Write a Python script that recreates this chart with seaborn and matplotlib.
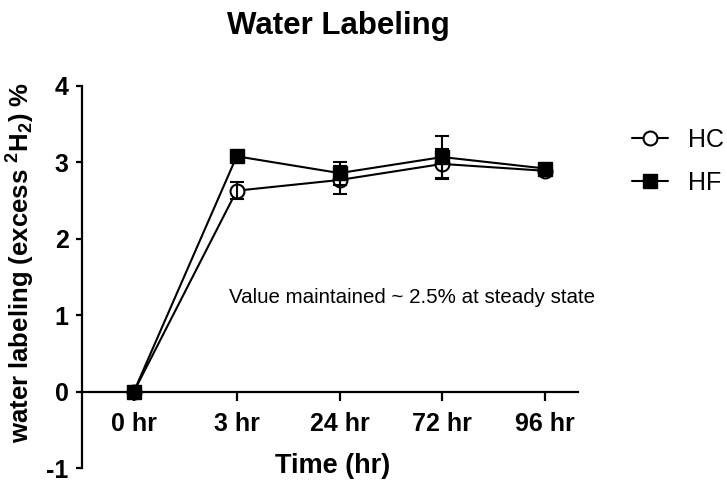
import matplotlib
matplotlib.use("Agg")
import matplotlib.pyplot as plt
import numpy as np
import pandas as pd
import seaborn as sns

# Deuterium water labeling over time, mean and SEM per group
time_labels = ["0 hr", "3 hr", "24 hr", "72 hr", "96 hr"]
hc_mean = [0.0, 2.63, 2.77, 2.98, 2.89]
hc_sem = [0.0, 0.11, 0.18, 0.20, 0.04]
hf_mean = [0.0, 3.08, 2.86, 3.07, 2.92]
hf_sem = [0.0, 0.04, 0.15, 0.28, 0.04]
y_ticks = [-1, 0, 1, 2, 3, 4]
note = "Value maintained ~ 2.5% at steady state"

sns.set_style("ticks")
plt.rcParams["font.family"] = ["Liberation Sans", "DejaVu Sans"]
plt.rcParams["mathtext.fontset"] = "custom"
plt.rcParams["mathtext.rm"] = "Liberation Sans"
plt.rcParams["mathtext.bf"] = "Liberation Sans:bold"
for key in ["text.color", "axes.labelcolor", "xtick.color", "ytick.color",
            "axes.edgecolor"]:
    plt.rcParams[key] = "black"

pos = np.arange(len(time_labels))
df = pd.DataFrame({
    "pos": np.concatenate([pos, pos]),
    "value": hc_mean + hf_mean,
    "sem": hc_sem + hf_sem,
    "group": ["HC"] * len(pos) + ["HF"] * len(pos),
})

fig = plt.figure(figsize=(7.27, 4.8), dpi=100)
ax = fig.add_axes([82 / 727, 1 - 468 / 480, (578 - 82) / 727, (468 - 86) / 480])

hc = df[df.group == "HC"]
hf = df[df.group == "HF"]

sns.lineplot(data=hc, x="pos", y="value", ax=ax, color="black", lw=1.5,
             marker="o", ms=10, mfc="white", mec="black", mew=1.5,
             label="HC", zorder=2, errorbar=None)
ax.errorbar(hc["pos"], hc["value"], yerr=hc["sem"], fmt="none", ecolor="black",
            elinewidth=1.5, capsize=5, capthick=1.5, zorder=3)
sns.lineplot(data=hf, x="pos", y="value", ax=ax, color="black", lw=1.5,
             marker="s", ms=10, mfc="black", mec="black", mew=1.0,
             label="HF", zorder=4, errorbar=None)
ax.errorbar(hf["pos"], hf["value"], yerr=hf["sem"], fmt="none", ecolor="black",
            elinewidth=1.5, capsize=5, capthick=1.5, zorder=5)

# Axes: y spine from -1 to 4, x axis line sits at y = 0
ax.set_ylim(-1, 4)
ax.set_xlim(-0.505, 4.32)
ax.set_yticks(y_ticks)
ax.set_yticklabels([str(t) for t in y_ticks])
ax.set_xticks(pos)
ax.set_xticklabels(time_labels)
for s in ["top", "right"]:
    ax.spines[s].set_visible(False)
ax.spines["bottom"].set_position(("data", 0))
ax.spines["left"].set_linewidth(1.6)
ax.spines["bottom"].set_linewidth(1.6)
ax.tick_params(axis="y", length=4.5, width=1.6, pad=5, labelsize=18)
ax.tick_params(axis="x", length=6.5, width=1.6, pad=8, labelsize=18)
for lab in ax.get_xticklabels() + ax.get_yticklabels():
    lab.set_fontweight("bold")

ax.set_xlabel("Time (hr)", fontsize=19.5, fontweight="bold", va="top")
ax.xaxis.set_label_coords(0.506, 0.040)
ax.set_ylabel(r"water labeling (excess $\mathbf{^2H_2}$) %", fontsize=18.5,
              fontweight="bold")
ax.yaxis.set_label_coords(-0.091, 0.539)

ax.text(0.922, 1.16, note, fontsize=14.8, ha="left", va="baseline")

fig.text(338 / 727, 1 - 34 / 480, "Water Labeling", fontsize=22.5,
         fontweight="bold", ha="center", va="baseline")

ax.legend(loc="upper left", bbox_to_anchor=(632 / 727, 1 - 128 / 480),
          bbox_transform=fig.transFigure, frameon=False, fontsize=18,
          handlelength=1.45, handletextpad=0.8, labelspacing=0.75,
          borderpad=0, borderaxespad=0)

fig.savefig("out.png", dpi=100)
